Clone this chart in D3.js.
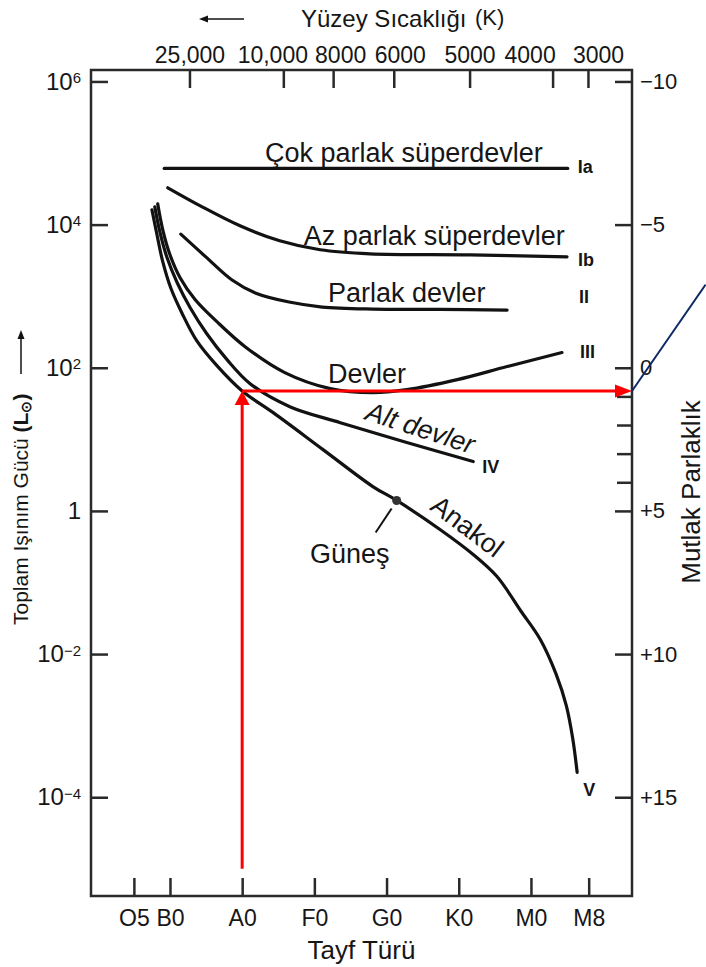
<!DOCTYPE html>
<html>
<head>
<meta charset="utf-8">
<script src="https://cdn.jsdelivr.net/npm/d3@7"></script>
<style>
  body { margin: 0; background: #fff; }
  svg text { font-family: "Liberation Sans", Arial, Helvetica, sans-serif; fill: #161616; }
</style>
</head>
<body>
<div id="chart"></div>
<script>
// ---- DATA ----
// spectral classes on the bottom axis, as a numeric subclass scale (B0 = 10, A0 = 20 ...)
var specLabels = ["O5", "B0", "A0", "F0", "G0", "K0", "M0", "M8"];
var specValues = [5, 10, 20, 30, 40, 50, 60, 68];

// surface temperature ticks on the top axis, and where they fall on the spectral scale
var tempLabels = [25000, 10000, 8000, 6000, 5000, 4000, 3000];
var tempSpec = [12.7, 25.7, 32.6, 41.0, 51.5, 63.0, 67.9];

// luminosity (L/Lsun) ticks on the left, absolute magnitude ticks on the right
var lumTicks = [1e6, 1e4, 1e2, 1, 1e-2, 1e-4];
var magTicks = [-10, -5, 0, 5, 10, 15];
var magMinor = [1, 2, 3, 4];

// luminosity classes, points are [spectral, L/Lsun]
var classIa = [[9.2, 6.1e4], [65.1, 6.1e4]];
var classIb = [[9.7, 3.27e4], [14.2, 1.83e4], [19.7, 9.62e3], [25.2, 5.94e3], [30.8, 4.45e3],
               [37.7, 3.91e3], [51.6, 3.78e3], [65.0, 3.55e3]];
var classII = [[11.5, 7.35e3], [15.0, 3.51e3], [18.6, 1.68e3], [21.9, 1.10e3], [26.5, 828],
               [31.1, 705], [38.1, 661], [47.4, 655], [56.7, 640]];
var classIII = [[8.3, 1.95e4], [9.0, 8.47e3], [10.0, 3.79e3], [11.4, 1.81e3], [13.5, 891],
                [16.5, 440], [20.4, 197], [25.9, 85.5], [32.2, 51.1], [38.1, 44.9],
                [42.8, 49.4], [49.8, 68.2], [56.7, 104], [64.3, 163]];
var classIV = [[7.9, 1.77e4], [8.6, 7.93e3], [9.6, 3.44e3], [11.0, 1.54e3], [12.8, 690],
               [15.1, 299], [17.9, 130], [21.1, 60.0], [26.6, 28.6], [33.6, 17.1],
               [42.8, 9.02], [52.0, 4.90]];
var classV = [[7.5, 1.61e4], [8.2, 7.21e3], [9.0, 3.03e3], [10.1, 1.31e3], [11.7, 569],
              [13.7, 239], [16.5, 107], [20.0, 47.4], [24.3, 23.6], [31.2, 7.19],
              [38.1, 2.19], [41.4, 1.4], [47.4, 0.55], [52.0, 0.246], [55.3, 0.121],
              [58.6, 0.040], [61.3, 0.016], [63.5, 5.2e-3], [64.9, 1.9e-3], [65.8, 6.5e-4],
              [66.4, 2.23e-4]];

var sun = [41.4, 1.4];

// red guide: from the A0 column up to the main sequence, then over to the magnitude axis
var arrowSpec = 20, arrowLum = 47.4, arrowFrom = 1e-5;
var blueEnd = [84.2, 1.45e3];

// ---- LAYOUT ----
var width = 706, height = 967;
var frame = {left: 91, right: 632, top: 70, bottom: 896};
var ink = "#121212", axisColor = "#2a2a2a";

var svg = d3.select("#chart").append("svg")
    .attr("width", width)
    .attr("height", height);

var x = d3.scaleLinear().domain([-0.94, 74]).range([frame.left, frame.right]);
var y = d3.scaleLog().domain([Math.pow(10, -5.38), Math.pow(10, 6.16)]).range([frame.bottom, frame.top]);
// absolute magnitude M = 5 - 2.5 log L
var yMag = d3.scaleLinear().domain([5 + 2.5 * 5.38, 5 - 2.5 * 6.16]).range([frame.bottom, frame.top]);

// AXES
var gBottom = svg.append("g")
    .attr("transform", "translate(0," + frame.bottom + ")")
    .call(d3.axisBottom(x).tickValues(specValues).tickSize(-18).tickPadding(14)
        .tickFormat(function(d) { return specLabels[specValues.indexOf(d)]; }));
gBottom.selectAll("text").style("font-size", "23px");

var tempNudge = [0, -11, 7, 6, 0, -23, 10];
var gTop = svg.append("g")
    .attr("transform", "translate(0," + frame.top + ")")
    .call(d3.axisTop(x).tickValues(tempSpec).tickSize(-18).tickPadding(7)
        .tickFormat(function(d) {
            var t = tempLabels[tempSpec.indexOf(d)];
            return t >= 10000 ? d3.format(",")(t) : String(t);
        }));
gTop.selectAll("text")
    .style("font-size", "23px")
    .attr("dx", function(d) { return tempNudge[tempSpec.indexOf(d)]; });

var gLeft = svg.append("g")
    .attr("transform", "translate(" + frame.left + ",0)")
    .call(d3.axisLeft(y).tickValues(lumTicks).tickSize(-17).tickPadding(10).tickFormat(""));
gLeft.selectAll(".tick text").each(function(d) {
    var t = d3.select(this).style("font-size", "24px");
    var e = Math.round(Math.log10(d));
    if (e === 0) { t.text("1"); return; }
    t.append("tspan").text("10");
    t.append("tspan").attr("dy", "-0.45em").style("font-size", "15px")
        .text(e < 0 ? "\u2212" + (-e) : e);
});

var magFmt = function(d) { return d > 0 ? "+" + d : d < 0 ? "\u2212" + (-d) : "0"; };
var gRight = svg.append("g")
    .attr("transform", "translate(" + frame.right + ",0)")
    .call(d3.axisRight(yMag).tickValues(magTicks).tickSize(-17).tickPadding(8).tickFormat(magFmt));
gRight.selectAll("text").style("font-size", "22px");
var gMinor = svg.append("g")
    .attr("transform", "translate(" + frame.right + ",0)")
    .call(d3.axisRight(yMag).tickValues(magMinor).tickSize(-15).tickFormat(""));

svg.selectAll(".domain").remove();
svg.selectAll(".tick line").attr("stroke", axisColor).attr("stroke-width", 2.5);

svg.append("rect")
    .attr("x", frame.left).attr("y", frame.top)
    .attr("width", frame.right - frame.left).attr("height", frame.bottom - frame.top)
    .attr("fill", "none").attr("stroke", axisColor).attr("stroke-width", 2.5);

// AXIS TITLES
svg.append("text").attr("x", 301).attr("y", 27).style("font-size", "24px").text("Yüzey Sıcaklığı");
svg.append("text").attr("x", 475).attr("y", 25).style("font-size", "22px").text("(K)");
svg.append("line").attr("x1", 244).attr("x2", 206).attr("y1", 19).attr("y2", 19)
    .attr("stroke", ink).attr("stroke-width", 1.5);
svg.append("path").attr("d", "M199,19L208,15.5L208,22.5Z").attr("fill", ink);

svg.append("text")
    .attr("text-anchor", "middle")
    .attr("x", (frame.left + frame.right) / 2).attr("y", 959)
    .style("font-size", "26px").text("Tayf Türü");

var yTitle = svg.append("text")
    .attr("transform", "translate(28,625) rotate(-90)")
    .style("font-size", "21px");
yTitle.append("tspan").text("Toplam Işınım Gücü ");
yTitle.append("tspan").style("font-weight", "bold").text("(L");
yTitle.append("tspan").style("font-weight", "bold").style("font-size", "14px").attr("dy", 3).text("\u2299");
yTitle.append("tspan").style("font-weight", "bold").attr("dy", -3).text(")");
svg.append("line").attr("x1", 21).attr("x2", 21).attr("y1", 374).attr("y2", 337)
    .attr("stroke", ink).attr("stroke-width", 1.5);
svg.append("path").attr("d", "M21,330L17.5,339L24.5,339Z").attr("fill", ink);

svg.append("text")
    .attr("transform", "translate(700,492) rotate(-90)")
    .attr("text-anchor", "middle")
    .style("font-size", "26px").text("Mutlak Parlaklık");

// LUMINOSITY CLASS CURVES
var line = d3.line()
    .x(function(d) { return x(d[0]); })
    .y(function(d) { return y(d[1]); })
    .curve(d3.curveCatmullRom.alpha(0.5));

var curves = [classIa, classIb, classII, classIII, classIV, classV];
svg.selectAll("path.lumclass")
    .data(curves)
    .enter()
    .append("path")
    .attr("class", "lumclass")
    .attr("d", line)
    .attr("fill", "none")
    .attr("stroke", ink)
    .attr("stroke-width", 3.2)
    .attr("stroke-linecap", "round");

// numerals at the curve ends
var classMarks = [
    {text: "Ia", curve: classIa, dx: 10, dy: 5},
    {text: "Ib", curve: classIb, dx: 11, dy: 9},
    {text: "II", curve: classII, dx: 72, dy: -7},
    {text: "III", curve: classIII, dx: 18, dy: 5},
    {text: "IV", curve: classIV, dx: 9, dy: 11},
    {text: "V", curve: classV, dx: 6, dy: 24}
];
svg.selectAll("text.mark")
    .data(classMarks)
    .enter()
    .append("text")
    .attr("class", "mark")
    .attr("x", function(d) { return x(d.curve[d.curve.length - 1][0]) + d.dx; })
    .attr("y", function(d) { return y(d.curve[d.curve.length - 1][1]) + d.dy; })
    .style("font-size", "18px")
    .style("font-weight", "bold")
    .text(function(d) { return d.text; });

// curve names
var curveLabels = [
    {text: "Çok parlak süperdevler", at: [42.4, 7.5e4], rotate: 0},
    {text: "Az parlak süperdevler", at: [46.6, 5.2e3], rotate: 0},
    {text: "Parlak devler", at: [42.8, 838], rotate: 0},
    {text: "Devler", at: [37.3, 62], rotate: 0},
    {text: "Alt devler", at: [44.3, 10.9], rotate: 18, italic: true},
    {text: "Anakol", at: [50.4, 0.48], rotate: 37},
    {text: "Güneş", at: [34.9, 0.185], rotate: 0}
];
svg.selectAll("text.cname")
    .data(curveLabels)
    .enter()
    .append("text")
    .attr("class", "cname")
    .attr("text-anchor", "middle")
    .attr("transform", function(d) {
        return "translate(" + x(d.at[0]) + "," + y(d.at[1]) + ") rotate(" + d.rotate + ")";
    })
    .style("font-size", "27px")
    .style("font-style", function(d) { return d.italic ? "italic" : "normal"; })
    .text(function(d) { return d.text; });

// the Sun
svg.append("circle")
    .attr("cx", x(sun[0])).attr("cy", y(sun[1])).attr("r", 4.5)
    .attr("fill", "#333");
svg.append("line")
    .attr("x1", x(sun[0]) - 5).attr("y1", y(sun[1]) + 8)
    .attr("x2", x(sun[0]) - 21).attr("y2", y(sun[1]) + 32)
    .attr("stroke", ink).attr("stroke-width", 2);

// RED GUIDE ARROWS
var red = "#ff0000";
var ax = x(arrowSpec), ay = y(arrowLum);
svg.append("line")
    .attr("x1", ax).attr("x2", ax).attr("y1", y(arrowFrom)).attr("y2", ay + 10)
    .attr("stroke", red).attr("stroke-width", 3);
svg.append("path")
    .attr("d", "M" + ax + "," + ay + "L" + (ax - 7.5) + "," + (ay + 14) + "L" + (ax + 7.5) + "," + (ay + 14) + "Z")
    .attr("fill", red);
svg.append("line")
    .attr("x1", ax).attr("x2", frame.right - 12).attr("y1", ay).attr("y2", ay)
    .attr("stroke", red).attr("stroke-width", 3);
svg.append("path")
    .attr("d", "M" + frame.right + "," + ay + "L" + (frame.right - 17) + "," + (ay - 6.5) + "L" + (frame.right - 17) + "," + (ay + 6.5) + "Z")
    .attr("fill", red);

svg.append("line")
    .attr("x1", frame.right).attr("y1", ay)
    .attr("x2", x(blueEnd[0])).attr("y2", y(blueEnd[1]))
    .attr("stroke", "#0d2a66").attr("stroke-width", 2);
</script>
</body>
</html>
